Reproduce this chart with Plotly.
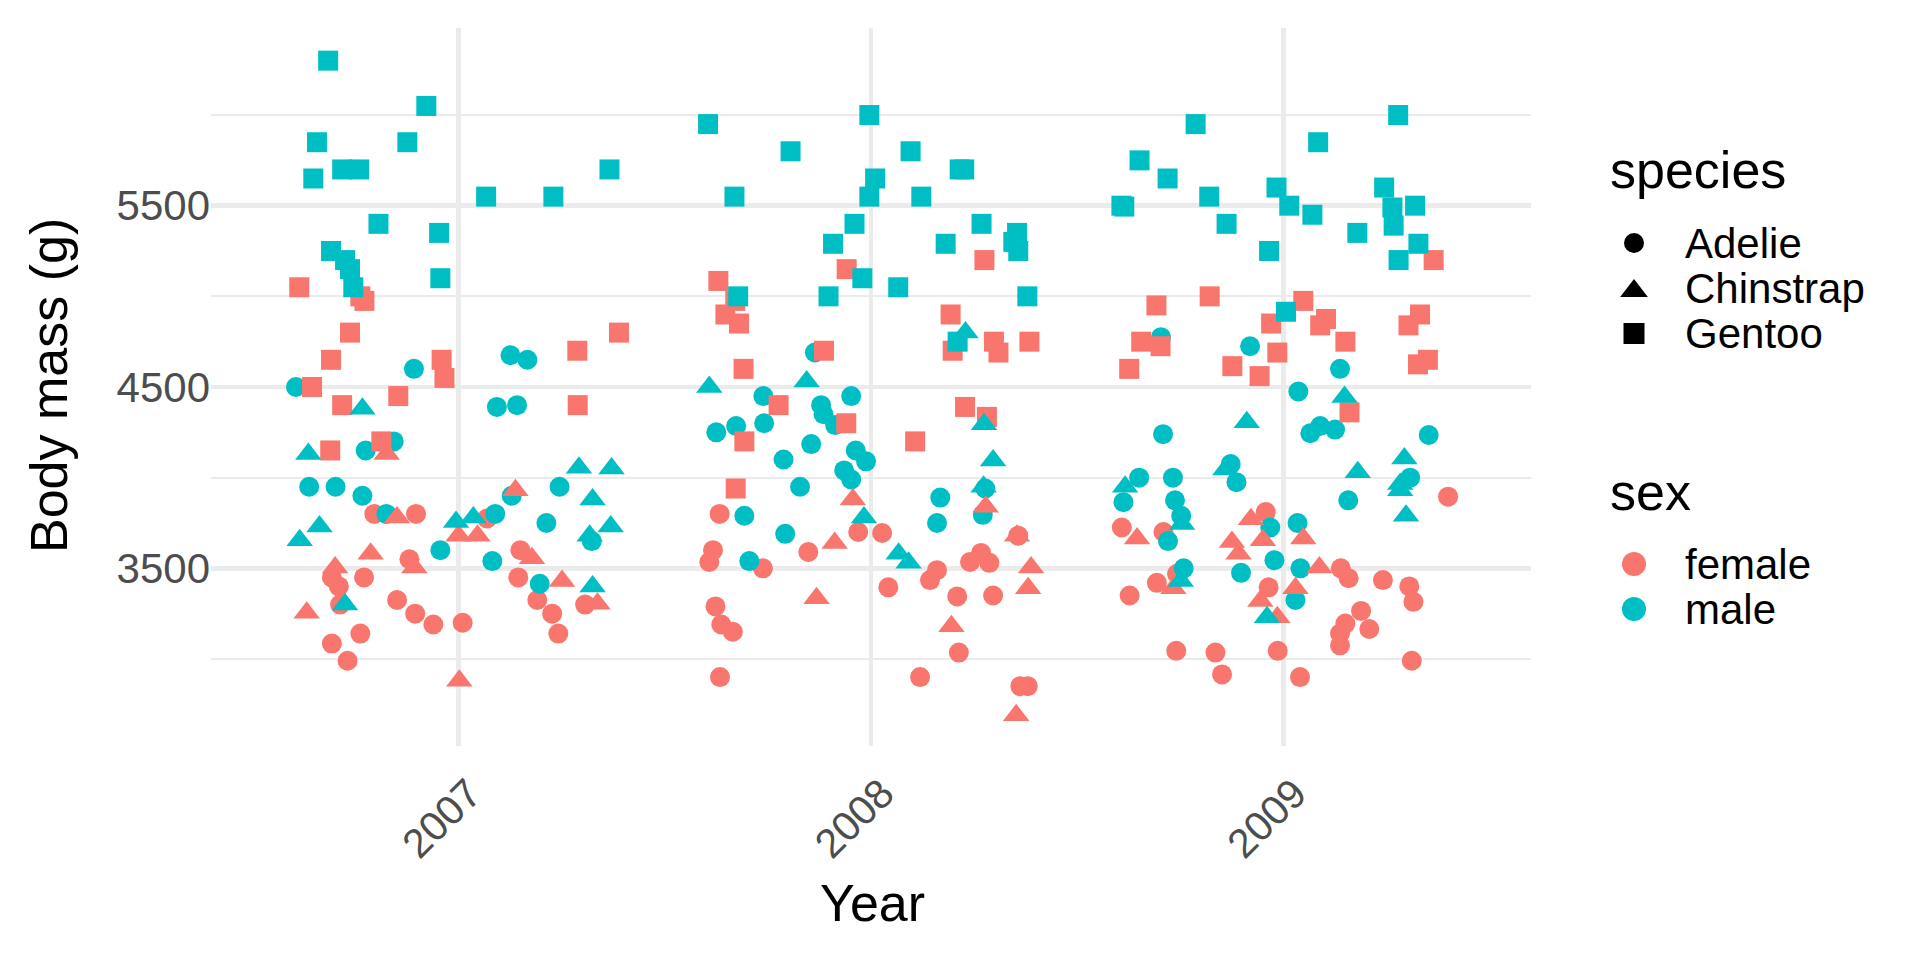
import plotly.graph_objects as go

FONT = "Liberation Sans, Arial, Helvetica, sans-serif"
SALMON = "#F8766D"
TEAL = "#00BFC4"
GRID = "#EBEBEB"
TICK_COLOR = "#4D4D4D"

# ---------------- data (jittered year, body mass in g) ----------------
gentoo_male_year = [
    2006.684, 2006.922, 2006.657, 2006.876, 2006.648, 2006.718, 2006.759, 2007.067, 2007.230, 2007.366,
    2006.806, 2006.953, 2006.691, 2006.725, 2006.737, 2006.745, 2006.956,
    2007.605, 2007.996, 2007.805, 2008.096, 2008.215, 2008.226, 2007.669, 2008.010, 2007.996, 2008.122,
    2007.960, 2007.908, 2008.181, 2008.268, 2008.354, 2008.345, 2008.357, 2007.979, 2008.066, 2007.678,
    2007.897, 2008.379, 2008.210,
    2008.787, 2009.278, 2008.651, 2009.084, 2008.719, 2008.820, 2008.607, 2008.614, 2008.862, 2008.983,
    2009.014, 2009.070, 2008.965, 2009.179, 2009.244, 2009.264, 2009.319, 2009.267, 2009.327, 2009.279,
    2009.006]
gentoo_male_mass = [
    6300, 6050, 5850, 5850, 5650, 5700, 5700, 5550, 5550, 5700,
    5400, 5350, 5250, 5200, 5150, 5050, 5100,
    5950, 6000, 5800, 5800, 5700, 5700, 5550, 5650, 5550, 5550,
    5400, 5290, 5290, 5400, 5350, 5300, 5250, 5100, 5050, 5000,
    5000, 5000, 4750,
    5950, 6000, 5750, 5850, 5650, 5550, 5500, 5495, 5400, 5600,
    5500, 5450, 5250, 5350, 5600, 5490, 5500, 5390, 5290, 5200,
    4915]

gentoo_female_year = [
    2006.614, 2006.762, 2006.772, 2006.737, 2007.389, 2006.691, 2007.288, 2006.959, 2006.966, 2006.645,
    2006.718, 2006.854, 2007.289, 2006.689, 2006.813,
    2007.630, 2007.941, 2008.275, 2007.671, 2007.647, 2007.680, 2008.193, 2008.198, 2008.298, 2008.309,
    2008.384, 2007.886, 2007.691, 2007.776, 2007.940, 2007.693, 2007.672, 2008.228, 2008.281, 2008.107,
    2009.364, 2008.821, 2008.692, 2008.970, 2009.048, 2009.103, 2009.089, 2009.150, 2009.331, 2009.303,
    2009.350, 2009.326, 2008.655, 2008.702, 2008.626, 2008.985, 2008.876, 2008.942, 2009.160]
gentoo_female_mass = [
    5050, 5000, 4975, 4800, 4800, 4650, 4700, 4650, 4550, 4500,
    4400, 4450, 4400, 4150, 4200,
    5085, 5150, 5200, 4975, 4900, 4850, 4900, 4700, 4750, 4690,
    4750, 4700, 4600, 4400, 4300, 4200, 3940, 4390, 4335, 4200,
    5200, 5000, 4950, 4850, 4975, 4875, 4840, 4750, 4900, 4840,
    4650, 4625, 4750, 4725, 4600, 4690, 4615, 4560, 4360]

adelie_male_year = [
    2007.126, 2007.167, 2006.892, 2006.606, 2007.093, 2007.142, 2006.775, 2006.843, 2007.245, 2007.129,
    2006.638, 2006.702, 2006.767, 2006.825, 2007.089, 2007.213, 2007.323, 2006.956, 2007.082, 2007.197,
    2007.864, 2007.739, 2007.952, 2007.879, 2007.885, 2007.913, 2007.625, 2007.673, 2007.741, 2007.855,
    2007.788, 2007.963, 2007.988, 2007.935, 2007.952, 2007.828, 2008.277, 2008.168, 2007.693, 2008.271,
    2008.160, 2007.792, 2007.705,
    2008.703, 2008.919, 2009.137, 2009.036, 2008.708, 2009.065, 2009.089, 2009.125, 2009.352, 2008.872,
    2008.886, 2009.307, 2008.650, 2008.612, 2008.732, 2008.737, 2009.157, 2008.752, 2008.720, 2008.968,
    2009.034, 2008.978, 2009.041, 2008.897, 2008.758, 2009.029]
adelie_male_mass = [
    4675, 4650, 4600, 4500, 4390, 4400, 4150, 4200, 3950, 3900,
    3950, 3950, 3900, 3800, 3800, 3750, 3650, 3600, 3540, 3415,
    4690, 4450, 4450, 4400, 4350, 4290, 4250, 4285, 4300, 4185,
    4100, 4150, 4090, 4040, 3990, 3950, 3940, 3890, 3790, 3795,
    3750, 3690, 3540,
    4775, 4725, 4600, 4475, 4240, 4245, 4285, 4265, 4235, 4075,
    3975, 4000, 4000, 3865, 4000, 3875, 3875, 3790, 3650, 3725,
    3750, 3545, 3500, 3475, 3500, 3325]

adelie_female_year = [
    2006.796, 2006.897, 2007.069, 2006.881, 2006.693, 2006.710, 2006.771, 2006.713, 2006.851, 2006.895,
    2006.939, 2007.010, 2007.150, 2007.145, 2007.307, 2007.191, 2007.227, 2007.242, 2006.762, 2006.693,
    2006.731,
    2007.633, 2007.969, 2008.027, 2007.848, 2007.617, 2007.608, 2007.738, 2008.160, 2008.143, 2008.240,
    2008.267, 2008.287, 2008.357, 2008.042, 2008.209, 2008.296, 2007.623, 2007.637, 2007.665, 2008.213,
    2007.634, 2008.119, 2008.362, 2008.380,
    2009.399, 2008.608, 2008.709, 2008.957, 2009.139, 2009.158, 2009.241, 2009.305, 2009.315, 2008.742,
    2008.693, 2008.627, 2008.964, 2009.188, 2009.150, 2009.137, 2009.137, 2009.208, 2008.740, 2008.835,
    2008.986, 2009.311, 2008.851, 2009.040]
adelie_female_mass = [
    3800, 3800, 3775, 3550, 3450, 3400, 3450, 3300, 3325, 3250,
    3190, 3200, 3600, 3450, 3300, 3325, 3250, 3140, 3140, 3085,
    2990,
    3800, 3700, 3695, 3590, 3600, 3535, 3500, 3490, 3435, 3535,
    3585, 3530, 3680, 3395, 3345, 3350, 3290, 3190, 3150, 3035,
    2900, 2900, 2850, 2850,
    3895, 3725, 3700, 3810, 3500, 3445, 3435, 3400, 3315, 3470,
    3420, 3350, 3395, 3265, 3195, 3140, 3075, 3165, 3045, 3035,
    3045, 2990, 2915, 2900]

chinstrap_male_year = [
    2006.767, 2006.636, 2007.292, 2007.371, 2007.325, 2006.663, 2006.615, 2006.994, 2007.036, 2007.318,
    2007.369, 2007.325, 2006.725,
    2008.229, 2007.608, 2007.844, 2008.274, 2008.296, 2008.273, 2007.983, 2008.067, 2008.091,
    2009.148, 2008.911, 2008.859, 2009.293, 2009.180, 2009.283, 2009.283, 2008.616, 2009.297, 2008.754,
    2008.751, 2008.960]
chinstrap_male_mass = [
    4380, 4130, 4055, 4050, 3880, 3730, 3655, 3755, 3780, 3680,
    3730, 3400, 3300,
    4800, 4500, 4530, 4295, 4095, 3950, 3780, 3580, 3530,
    4445, 4305, 4045, 4105, 4030, 3965, 3930, 3950, 3790, 3745,
    3430, 3230]

chinstrap_female_year = [
    2006.826, 2007.138, 2006.851, 2007.000, 2007.046, 2006.787, 2006.893, 2006.701, 2006.632, 2007.178,
    2007.251, 2007.337, 2007.002,
    2007.956, 2008.278, 2007.912, 2008.354, 2008.388, 2008.381, 2007.868, 2008.195, 2008.352,
    2008.645, 2008.921, 2008.875, 2008.891, 2008.950, 2009.048, 2009.087, 2008.733, 2008.944, 2008.985,
    2009.029]
chinstrap_female_mass = [
    4130, 3930, 3780, 3680, 3680, 3580, 3505, 3505, 3255, 3555,
    3430, 3305, 2880,
    3880, 3840, 3640, 3680, 3505, 3390, 3335, 3180, 2690,
    3665, 3770, 3645, 3580, 3655, 3665, 3505, 3390, 3320, 3230,
    3390]

year_ticks = [2007, 2008, 2009]
mass_ticks = [3500, 4500, 5500]
mass_minor = [3000, 4000, 5000, 6000]
species_labels = ["Adelie", "Chinstrap", "Gentoo"]
sex_labels = ["female", "male"]

# ---------------- figure ----------------
W, H = 1920, 960
PANEL_L, PANEL_R, PANEL_T, PANEL_B = 211, 1531, 28, 746


def px(x):
    return x / W


def py(y):
    return 1 - y / H


fig = go.Figure()

groups = [
    (adelie_female_year, adelie_female_mass, "circle", SALMON, 20),
    (adelie_male_year, adelie_male_mass, "circle", TEAL, 20),
    (gentoo_female_year, gentoo_female_mass, "square", SALMON, 20),
    (gentoo_male_year, gentoo_male_mass, "square", TEAL, 20),
    (chinstrap_female_year, chinstrap_female_mass, "triangle-up", SALMON, 23),
    (chinstrap_male_year, chinstrap_male_mass, "triangle-up", TEAL, 23),
]
for xs, ys, sym, col, size in groups:
    fig.add_trace(go.Scatter(
        x=xs, y=ys, mode="markers", showlegend=False,
        marker=dict(symbol=sym, color=col, size=size, line=dict(width=0)),
        xaxis="x", yaxis="y"))

# ---------------- hand-built legend (hidden pixel axes) ----------------
LEG_MX = 1634
sp_y = [243, 288, 333.5]
sp_sym = ["circle", "triangle-up", "square"]
sp_size = [20, 24, 21]
for lab, yy, sym, sz in zip(species_labels, sp_y, sp_sym, sp_size):
    fig.add_trace(go.Scatter(x=[LEG_MX], y=[yy + (3 if sym == "triangle-up" else 0)], mode="markers",
                             showlegend=False, hoverinfo="skip",
                             marker=dict(symbol=sym, color="black", size=sz),
                             xaxis="x2", yaxis="y2"))
sx_y = [564, 609]
for lab, yy, col in zip(sex_labels, sx_y, [SALMON, TEAL]):
    fig.add_trace(go.Scatter(x=[LEG_MX], y=[yy], mode="markers", showlegend=False, hoverinfo="skip",
                             marker=dict(symbol="circle", color=col, size=24),
                             xaxis="x2", yaxis="y2"))

annotations = []
for lab, yy in zip(species_labels, sp_y):
    annotations.append(dict(text=lab, x=px(1683), y=py(yy), xref="paper", yref="paper",
                            xanchor="left", yanchor="middle", showarrow=False,
                            font=dict(family=FONT, size=42, color="black")))
for lab, yy in zip(sex_labels, sx_y):
    annotations.append(dict(text=lab, x=px(1683), y=py(yy), xref="paper", yref="paper",
                            xanchor="left", yanchor="middle", showarrow=False,
                            font=dict(family=FONT, size=42, color="black")))
annotations.append(dict(text="species", x=px(1608), y=py(170), xref="paper", yref="paper",
                        xanchor="left", yanchor="middle", showarrow=False,
                        font=dict(family=FONT, size=52, color="black")))
annotations.append(dict(text="sex", x=px(1608), y=py(492), xref="paper", yref="paper",
                        xanchor="left", yanchor="middle", showarrow=False,
                        font=dict(family=FONT, size=52, color="black")))
# axis titles
annotations.append(dict(text="Year", x=px(872), y=py(903), xref="paper", yref="paper",
                        xanchor="center", yanchor="middle", showarrow=False,
                        font=dict(family=FONT, size=52, color="black")))
annotations.append(dict(text="Body mass (g)", x=px(49), y=py(386), xref="paper", yref="paper",
                        xanchor="center", yanchor="middle", showarrow=False, textangle=-90,
                        font=dict(family=FONT, size=52, color="black")))

fig.update_layout(
    width=W, height=H,
    margin=dict(l=0, r=0, t=0, b=0, pad=0),
    paper_bgcolor="white", plot_bgcolor="rgba(0,0,0,0)",
    font=dict(family=FONT, color="black"),
    showlegend=False,
    annotations=annotations,
    xaxis=dict(
        domain=[px(PANEL_L), px(PANEL_R)], range=[2006.4, 2009.6],
        tickmode="array", tickvals=year_ticks, ticktext=[str(v) for v in year_ticks],
        tickangle=-45, tickfont=dict(family=FONT, size=41, color=TICK_COLOR),
        ticklabelstandoff=14, ticklabelshift=11,
        showgrid=True, gridcolor=GRID, gridwidth=4.4,
        zeroline=False, showline=False, ticks="", automargin=False,
        anchor="y", fixedrange=True),
    yaxis=dict(
        domain=[py(PANEL_B), py(PANEL_T)], range=[2520, 6480],
        tickmode="array", tickvals=mass_ticks, ticktext=[str(v) for v in mass_ticks],
        tickfont=dict(family=FONT, size=42, color=TICK_COLOR),
        showgrid=True, gridcolor=GRID, gridwidth=4.4,
        minor=dict(tickvals=mass_minor, showgrid=True, gridcolor=GRID, gridwidth=2.2, ticks=""),
        zeroline=False, showline=False, ticks="", automargin=False,
        anchor="x", fixedrange=True),
    xaxis2=dict(domain=[0, 1], range=[0, W], visible=False, anchor="y2", fixedrange=True),
    yaxis2=dict(domain=[0, 1], range=[H, 0], visible=False, anchor="x2", fixedrange=True),
)

fig.write_html(
    "out.html",
    config={"displayModeBar": False, "staticPlot": True},
    post_script="document.body.style.margin='0px';document.body.style.overflow='hidden';",
)
